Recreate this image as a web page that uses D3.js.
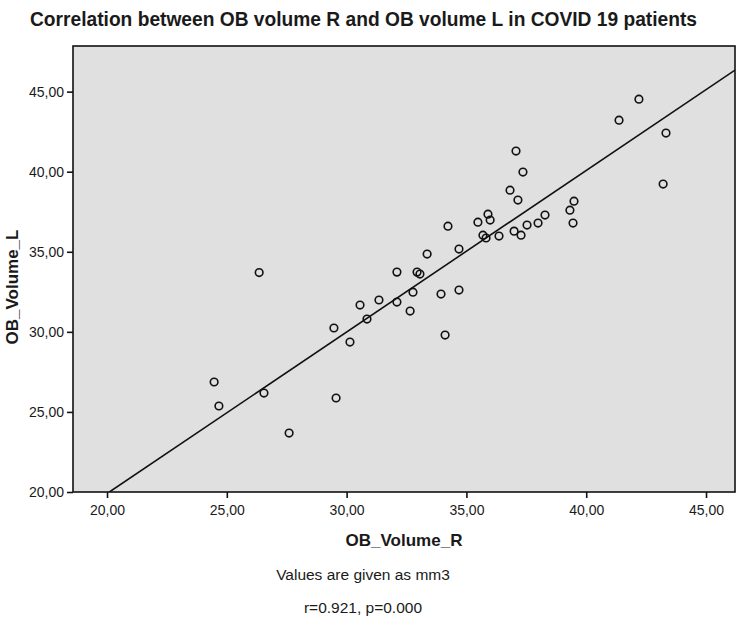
<!DOCTYPE html>
<html><head><meta charset="utf-8">
<script src="https://cdn.jsdelivr.net/npm/d3@7"></script>
<style>
body{margin:0;background:#fff}
svg{display:block}
text{font-family:"Liberation Sans",Arial,sans-serif;fill:#1a1a1a}
</style>
</head><body>
<svg id="chart" width="742" height="625"></svg>
<script>
// OB volume right (x) and left (y), mm3
const rVolume = [24.47,24.67,26.55,27.60,26.35,29.56,29.47,30.14,30.56,30.85,31.35,32.10,32.10,32.65,32.77,32.94,33.06,33.36,33.94,34.11,34.23,34.69,34.69,35.48,35.69,35.82,35.90,35.99,36.36,36.82,37.15,37.07,37.36,36.99,37.28,37.53,37.99,38.28,39.49,39.32,39.45,42.20,41.37,43.33,43.21];
const lVolume = [26.87,25.37,26.18,23.68,33.70,25.87,30.24,29.36,31.67,30.80,31.99,33.73,31.86,31.30,32.48,33.73,33.61,34.86,32.36,29.80,36.60,35.17,32.61,36.85,36.04,35.86,37.35,36.98,35.98,38.85,38.23,41.29,39.98,36.29,36.04,36.67,36.79,37.29,38.16,37.60,36.79,44.53,43.22,42.41,39.23];
const xTicks = [20,25,30,35,40,45];
const xTickLabels = ["20,00","25,00","30,00","35,00","40,00","45,00"];
const yTicks = [20,25,30,35,40,45];
const yTickLabels = ["20,00","25,00","30,00","35,00","40,00","45,00"];
const xDomain = [18.58, 46.21];
const yDomain = [20, 47.85];
const fitIntercept = -0.28, fitSlope = 1.009;
const titleText = "Correlation between OB volume R and OB volume L in COVID 19 patients";
const xTitle = "OB_Volume_R", yTitle = "OB_Volume_L";
const notes = ["Values are given as mm3", "r=0.921, p=0.000"];

const svg = d3.select("#chart");
const m = {left:73, right:735, top:46, bottom:492};
const x = d3.scaleLinear().domain(xDomain).range([m.left, m.right]);
const y = d3.scaleLinear().domain(yDomain).range([m.bottom, m.top]);

svg.append("rect").attr("x",0).attr("y",0).attr("width",742).attr("height",625).attr("fill","#fff");

svg.append("text").attr("x",30).attr("y",26)
  .attr("font-size",20).attr("font-weight","bold")
  .attr("textLength",667).attr("lengthAdjust","spacingAndGlyphs")
  .text(titleText);

svg.append("rect").attr("x",m.left).attr("y",m.top)
  .attr("width",m.right-m.left).attr("height",m.bottom-m.top)
  .attr("fill","#e0e0e0");

const plot = svg.append("g");
plot.append("clipPath").attr("id","clip").append("rect")
  .attr("x",m.left).attr("y",m.top).attr("width",m.right-m.left).attr("height",m.bottom-m.top);

const fit = d => fitIntercept + fitSlope*d;
const x0 = Math.max(xDomain[0], (yDomain[0]-fitIntercept)/fitSlope);
const x1 = Math.min(xDomain[1], (yDomain[1]-fitIntercept)/fitSlope);
plot.append("line").attr("clip-path","url(#clip)")
  .attr("x1",x(x0)).attr("y1",y(fit(x0)))
  .attr("x2",x(x1)).attr("y2",y(fit(x1)))
  .attr("stroke","#111").attr("stroke-width",1.6);

plot.selectAll("circle").data(rVolume).join("circle")
  .attr("cx",d=>x(d)).attr("cy",(d,i)=>y(lVolume[i]))
  .attr("r",3.8).attr("fill","none").attr("stroke","#111").attr("stroke-width",1.6);

svg.append("rect").attr("x",m.left).attr("y",m.top)
  .attr("width",m.right-m.left).attr("height",m.bottom-m.top)
  .attr("fill","none").attr("stroke","#111").attr("stroke-width",1.6);

const xAxis = svg.append("g").attr("transform",`translate(0,${m.bottom})`)
  .call(d3.axisBottom(x).tickValues(xTicks).tickFormat((d,i)=>xTickLabels[i]).tickSize(6).tickPadding(7));
const yAxis = svg.append("g").attr("transform",`translate(${m.left},0)`)
  .call(d3.axisLeft(y).tickValues(yTicks).tickFormat((d,i)=>yTickLabels[i]).tickSize(6).tickPadding(3));
[xAxis,yAxis].forEach(a=>{
  a.select(".domain").remove();
  a.selectAll(".tick line").attr("stroke","#111").attr("stroke-width",1.6);
  a.selectAll(".tick text").attr("font-size",14).attr("fill","#1a1a1a")
   .style("font-family","'Liberation Sans',Arial,sans-serif");
});

svg.append("text").attr("x",(m.left+m.right)/2).attr("y",546)
  .attr("text-anchor","middle").attr("font-size",17).attr("font-weight","bold").text(xTitle);
svg.append("text").attr("transform",`translate(18,${(m.top+m.bottom)/2 + 18}) rotate(-90)`)
  .attr("text-anchor","middle").attr("font-size",17).attr("font-weight","bold").text(yTitle);

svg.append("text").attr("x",363).attr("y",580).attr("text-anchor","middle").attr("font-size",15.5).text(notes[0]);
svg.append("text").attr("x",363).attr("y",613).attr("text-anchor","middle").attr("font-size",15.5).text(notes[1]);
</script>
</body></html>
